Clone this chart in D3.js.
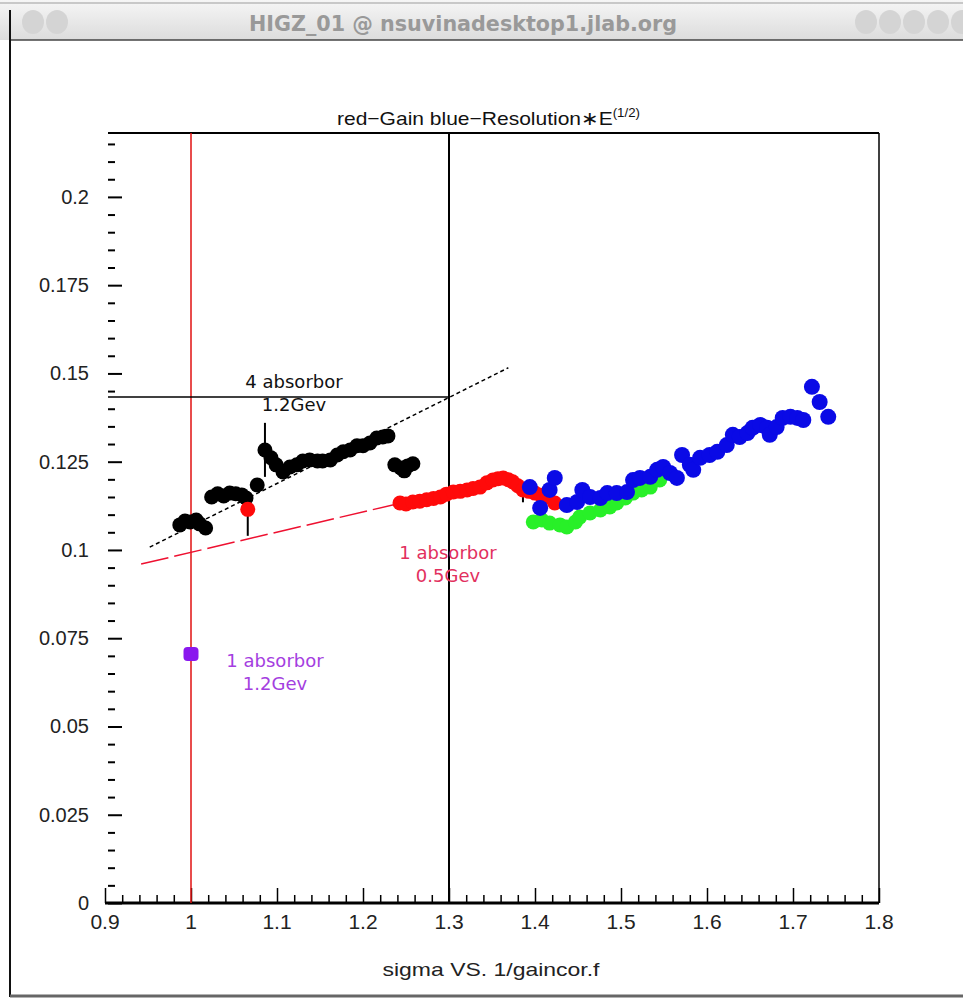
<!DOCTYPE html>
<html>
<head>
<meta charset="utf-8">
<script src="https://cdn.jsdelivr.net/npm/d3@7"></script>
<style>
  html, body { margin: 0; padding: 0; background: #ffffff; }
  svg { display: block; }
</style>
</head>
<body>
<svg id="chart" width="963" height="999"></svg>
<script>
// ---- data: [x = 1/gaincor, y = sigma] ----
const blackPoints = [
  [0.987, 0.1071], [0.993, 0.1082], [0.999, 0.1079], [1.006, 0.1085], [1.010, 0.1074], [1.017, 0.1062],
  [1.024, 0.1150], [1.031, 0.1159], [1.038, 0.1153], [1.045, 0.1161], [1.052, 0.1159], [1.059, 0.1156], [1.064, 0.1147],
  [1.077, 0.1184], [1.086, 0.1283], [1.093, 0.1261], [1.099, 0.1241],
  [1.107, 0.1221], [1.115, 0.1235], [1.123, 0.1241], [1.130, 0.1252], [1.138, 0.1255], [1.147, 0.1252],
  [1.153, 0.1252], [1.162, 0.1255], [1.170, 0.1269], [1.177, 0.1278], [1.185, 0.1283], [1.193, 0.1295],
  [1.200, 0.1295], [1.208, 0.1303], [1.216, 0.1317], [1.223, 0.1320], [1.229, 0.1323],
  [1.237, 0.1241], [1.244, 0.1232], [1.248, 0.1224], [1.252, 0.1238], [1.258, 0.1244]
];
const redPoints = [
  [1.066, 0.1115],
  [1.243, 0.1133], [1.250, 0.1130], [1.258, 0.1136], [1.266, 0.1138], [1.274, 0.1142], [1.282, 0.1146],
  [1.290, 0.1150], [1.297, 0.1158], [1.305, 0.1164], [1.313, 0.1166], [1.321, 0.1170], [1.328, 0.1174],
  [1.336, 0.1178], [1.344, 0.1190], [1.351, 0.1198], [1.357, 0.1202], [1.363, 0.1204], [1.369, 0.1199],
  [1.374, 0.1193], [1.380, 0.1182], [1.386, 0.1170], [1.393, 0.1166], [1.400, 0.1161], [1.407, 0.1155],
  [1.414, 0.1150], [1.423, 0.1133]
];
const greenPoints = [
  [1.398, 0.1079], [1.408, 0.1085], [1.417, 0.1076], [1.429, 0.1071], [1.437, 0.1065], [1.447, 0.1079],
  [1.452, 0.1093], [1.464, 0.1105], [1.476, 0.1113], [1.487, 0.1122], [1.495, 0.1133], [1.505, 0.1147],
  [1.514, 0.1161], [1.524, 0.1170], [1.534, 0.1178], [1.545, 0.1198]
];
const bluePoints = [
  [1.394, 0.1178], [1.406, 0.1119], [1.417, 0.1170], [1.423, 0.1204], [1.437, 0.1127], [1.449, 0.1136],
  [1.455, 0.1170], [1.464, 0.1150], [1.476, 0.1147], [1.484, 0.1161], [1.495, 0.1161], [1.507, 0.1164],
  [1.514, 0.1198], [1.522, 0.1204], [1.534, 0.1207], [1.542, 0.1227], [1.549, 0.1235], [1.557, 0.1218],
  [1.565, 0.1204], [1.571, 0.1269], [1.580, 0.1241], [1.584, 0.1227], [1.592, 0.1261], [1.603, 0.1269],
  [1.612, 0.1278], [1.623, 0.1297], [1.630, 0.1326], [1.638, 0.1320], [1.647, 0.1331], [1.653, 0.1346],
  [1.662, 0.1354], [1.670, 0.1346], [1.673, 0.1326], [1.681, 0.1348], [1.688, 0.1374], [1.697, 0.1377],
  [1.705, 0.1374], [1.712, 0.1368], [1.722, 0.1462], [1.731, 0.1419], [1.741, 0.1377]
];
const purplePoint = [1.0, 0.0705];
// error bars: [x, yLow, yHigh]
const errorBars = [[1.086, 0.1207, 0.1360], [1.066, 0.1040, 0.1110], [1.386, 0.1135, 0.1160]];
// fitted straight lines: [[x0, y0], [x1, y1]]
const blackFit = [[0.952, 0.1008], [1.369, 0.1516]];
const redFit = [[0.942, 0.0960], [1.300, 0.1165]];
// guide lines
const verticalRed = 1.0;
const verticalBlack = 1.3;
const horizontalBlack = 0.1433;

const xTicks = [0.9, 1.0, 1.1, 1.2, 1.3, 1.4, 1.5, 1.6, 1.7, 1.8];
const xTickLabels = ["0.9", "1", "1.1", "1.2", "1.3", "1.4", "1.5", "1.6", "1.7", "1.8"];
const yTicks = [0, 0.025, 0.05, 0.075, 0.1, 0.125, 0.15, 0.175, 0.2];
const yTickLabels = ["0", "0.025", "0.05", "0.075", "0.1", "0.125", "0.15", "0.175", "0.2"];

const svg = d3.select("#chart");

// ---- window frame ----
const grad = svg.append("defs").append("linearGradient")
  .attr("id", "bar").attr("x1", 0).attr("y1", 0).attr("x2", 0).attr("y2", 1);
grad.append("stop").attr("offset", "0%").attr("stop-color", "#f6f6f6");
grad.append("stop").attr("offset", "100%").attr("stop-color", "#dcdcdc");
svg.append("rect").attr("x", 0).attr("y", 0).attr("width", 963).attr("height", 40).attr("fill", "url(#bar)");
svg.append("line").attr("x1", 0).attr("x2", 963).attr("y1", 3).attr("y2", 3).attr("stroke", "#c8c8c8").attr("stroke-width", 2);
svg.append("line").attr("x1", 10).attr("x2", 963).attr("y1", 40).attr("y2", 40).attr("stroke", "#444").attr("stroke-width", 1.5);
svg.append("line").attr("x1", 10).attr("x2", 10).attr("y1", 10).attr("y2", 997).attr("stroke", "#111").attr("stroke-width", 2);
svg.append("line").attr("x1", 10).attr("x2", 963).attr("y1", 996).attr("y2", 996).attr("stroke", "#666").attr("stroke-width", 3);
[33, 57].concat([866, 890, 914, 938, 962]).forEach(cx => {
  svg.append("ellipse").attr("cx", cx).attr("cy", 22).attr("rx", 11).attr("ry", 12).attr("fill", "#d4d4d4");
});
svg.append("text").attr("x", 463).attr("y", 31).attr("text-anchor", "middle")
  .attr("font-family", "DejaVu Sans Condensed, DejaVu Sans").attr("font-weight", "bold")
  .attr("font-size", 21).attr("fill", "#999999")
  .attr("textLength", 428).attr("lengthAdjust", "spacingAndGlyphs")
  .text("HIGZ_01 @ nsuvinadesktop1.jlab.org");

// ---- scales ----
const plotLeft = 105, plotRight = 879, plotTop = 133, plotBottom = 903;
const x = d3.scaleLinear().domain([0.9, 1.8]).range([plotLeft, plotRight]);
const y = d3.scaleLinear().domain([0, 0.2181]).range([plotBottom, plotTop]);

// ---- frame: top and right edges ----
svg.append("line").attr("x1", plotLeft + 3).attr("x2", plotRight).attr("y1", plotTop).attr("y2", plotTop)
  .attr("stroke", "#000").attr("stroke-width", 2);
svg.append("line").attr("x1", plotRight).attr("x2", plotRight).attr("y1", plotTop).attr("y2", plotBottom)
  .attr("stroke", "#000").attr("stroke-width", 1.5);

// ---- y axis (ticks pointing inward) ----
const yMinor = d3.range(0, 0.2176, 0.005);
const yAxis = d3.axisRight(y).tickValues(yMinor)
  .tickSize(7).tickFormat("");
const gy = svg.append("g").attr("transform", `translate(${plotLeft + 3},0)`).call(yAxis);
gy.select(".domain").remove();
gy.selectAll(".tick line").attr("stroke", "#000").attr("stroke-width", 2)
  .attr("x2", d => (Math.abs(d / 0.025 - Math.round(d / 0.025)) < 1e-6 ? 14 : 7));
yTicks.forEach((v, i) => {
  svg.append("text").attr("x", 89).attr("y", y(v) + 7).attr("text-anchor", "end")
    .attr("font-family", "Liberation Sans, Arial").attr("font-size", 20).attr("fill", "#222")
    .text(yTickLabels[i]);
});

// ---- x axis (ticks pointing up) ----
const xMinor = d3.range(0.9, 1.8001, 0.02);
const xAxis = d3.axisTop(x).tickValues(xMinor).tickSize(8).tickFormat("");
const gx = svg.append("g").attr("transform", `translate(0,${plotBottom})`).call(xAxis);
gx.select(".domain").remove();
gx.selectAll(".tick line").attr("stroke", "#000").attr("stroke-width", 1.5)
  .attr("y2", d => (Math.abs(d * 10 - Math.round(d * 10)) < 1e-6 ? -15 : -8));
svg.append("line").attr("x1", plotLeft).attr("x2", plotRight).attr("y1", plotBottom).attr("y2", plotBottom)
  .attr("stroke", "#000").attr("stroke-width", 3);
xTicks.forEach((v, i) => {
  svg.append("text").attr("x", x(v)).attr("y", plotBottom + 26).attr("text-anchor", "middle")
    .attr("font-family", "Liberation Sans, Arial").attr("font-size", 21).attr("fill", "#222")
    .text(xTickLabels[i]);
});

// ---- titles ----
const title = svg.append("text").attr("x", 337).attr("y", 125)
  .attr("font-family", "Liberation Sans, Arial").attr("font-size", 19).attr("fill", "#111")
  .attr("textLength", 303).attr("lengthAdjust", "spacingAndGlyphs");
title.append("tspan").text("red\u2212Gain blue\u2212Resolution\u2217E");
title.append("tspan").attr("dy", -8).attr("font-size", 12).text("(1/2)");
svg.append("text").attr("x", 491).attr("y", 976).attr("text-anchor", "middle")
  .attr("font-family", "Liberation Sans, Arial").attr("font-size", 19).attr("fill", "#222")
  .attr("textLength", 217).attr("lengthAdjust", "spacingAndGlyphs")
  .text("sigma VS. 1/gaincor.f");

// ---- guide lines ----
svg.append("line").attr("x1", x(verticalRed)).attr("x2", x(verticalRed)).attr("y1", plotTop).attr("y2", plotBottom)
  .attr("stroke", "#e01010").attr("stroke-width", 1.5);
svg.append("line").attr("x1", x(verticalBlack)).attr("x2", x(verticalBlack)).attr("y1", plotTop).attr("y2", plotBottom)
  .attr("stroke", "#000").attr("stroke-width", 2);
svg.append("line").attr("x1", plotLeft + 3).attr("x2", x(verticalBlack)).attr("y1", y(horizontalBlack)).attr("y2", y(horizontalBlack))
  .attr("stroke", "#000").attr("stroke-width", 1.5);

// ---- fitted lines ----
const line = d3.line().x(d => x(d[0])).y(d => y(d[1]));
svg.append("path").attr("d", line(blackFit)).attr("fill", "none")
  .attr("stroke", "#000").attr("stroke-width", 1.5).attr("stroke-dasharray", "4,3");
svg.append("path").attr("d", line(redFit)).attr("fill", "none")
  .attr("stroke", "#ee1030").attr("stroke-width", 1.5).attr("stroke-dasharray", "28,6");

// ---- error bars ----
svg.append("g").selectAll("line").data(errorBars).join("line")
  .attr("x1", d => x(d[0])).attr("x2", d => x(d[0]))
  .attr("y1", d => y(d[1])).attr("y2", d => y(d[2]))
  .attr("stroke", "#000").attr("stroke-width", 2);

// ---- markers ----
function markers(data, fill, r) {
  svg.append("g").selectAll("circle").data(data).join("circle")
    .attr("cx", d => x(d[0])).attr("cy", d => y(d[1])).attr("r", r)
    .attr("fill", fill);
}
markers(blackPoints, "#000000", 7.5);
markers(redPoints, "#ff0a0a", 7.5);
markers(greenPoints, "#28f028", 7.5);
markers(bluePoints, "#0a0ae6", 8);

svg.append("rect").attr("x", x(purplePoint[0]) - 7.5).attr("y", y(purplePoint[1]) - 7)
  .attr("width", 15).attr("height", 14).attr("rx", 4).attr("fill", "#8a18ee");

// ---- annotations ----
function label(lines, cx, baseY, color) {
  lines.forEach((t, i) => {
    svg.append("text").attr("x", cx).attr("y", baseY + i * 23).attr("text-anchor", "middle")
      .attr("font-family", "DejaVu Sans").attr("font-size", 18).attr("fill", color).text(t);
  });
}
label(["4 absorbor", "1.2Gev"], 294, 388, "#111");
label(["1 absorbor", "0.5Gev"], 448, 559, "#e2305e");
label(["1 absorbor", "1.2Gev"], 275, 667, "#a43ee0");
</script>
</body>
</html>
